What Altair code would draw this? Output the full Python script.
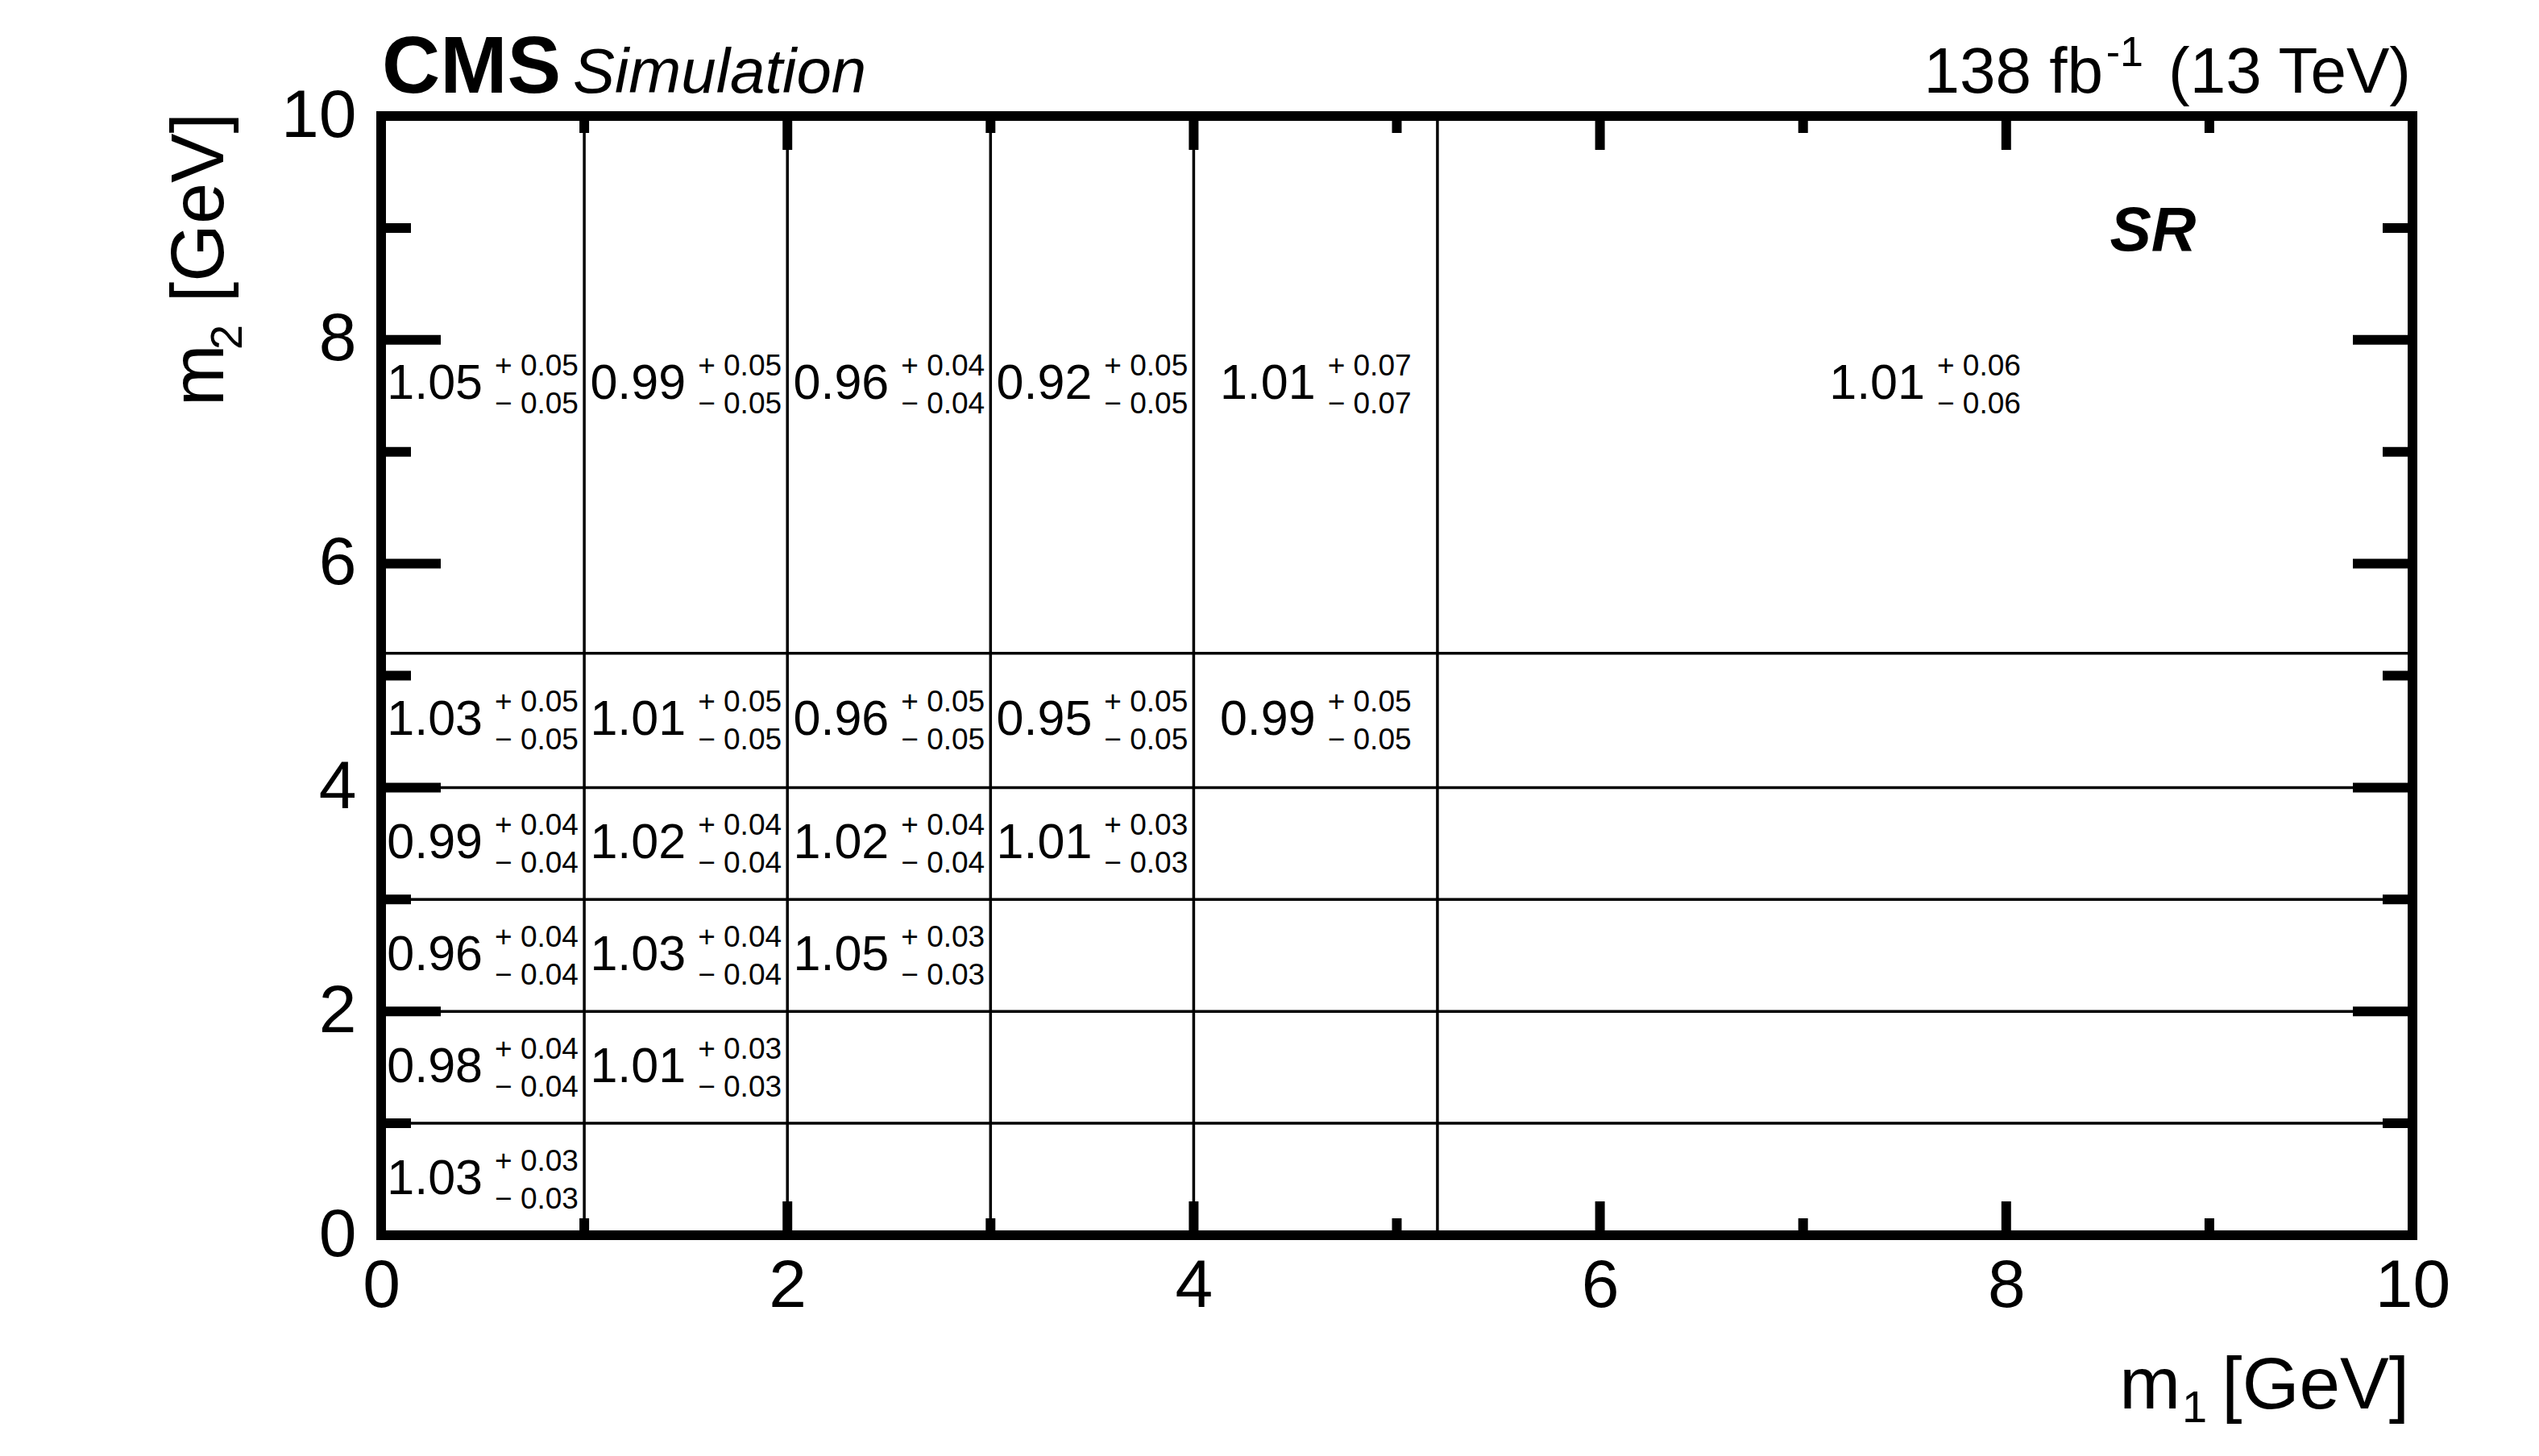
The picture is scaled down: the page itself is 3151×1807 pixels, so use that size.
import altair as alt
import pandas as pd

# ---------------- data ----------------
m1_edges = [0, 1, 2, 3, 4, 5.2, 10]
m2_edges = [0, 1, 2, 3, 4, 5.2, 10]

cell_m1_bin = [0, 0, 1, 0, 1, 2, 0, 1, 2, 3, 0, 1, 2, 3, 4, 0, 1, 2, 3, 4, 5]
cell_m2_bin = [0, 1, 1, 2, 2, 2, 3, 3, 3, 3, 4, 4, 4, 4, 4, 5, 5, 5, 5, 5, 5]
ratio = [1.03, 0.98, 1.01, 0.96, 1.03, 1.05, 0.99, 1.02, 1.02, 1.01,
         1.03, 1.01, 0.96, 0.95, 0.99, 1.05, 0.99, 0.96, 0.92, 1.01, 1.01]
err_up = [0.03, 0.04, 0.03, 0.04, 0.04, 0.03, 0.04, 0.04, 0.04, 0.03,
          0.05, 0.05, 0.05, 0.05, 0.05, 0.05, 0.05, 0.04, 0.05, 0.07, 0.06]
err_dn = [0.03, 0.04, 0.03, 0.04, 0.04, 0.03, 0.04, 0.04, 0.04, 0.03,
          0.05, 0.05, 0.05, 0.05, 0.05, 0.05, 0.05, 0.04, 0.05, 0.07, 0.06]

axis_label_values = [0, 2, 4, 6, 8, 10]
major_ticks = [2, 4, 6, 8]
minor_ticks = [1, 3, 5, 7, 9]

# ---------------- layout ----------------
W, H = 2521, 1389
FONT = "Liberation Sans"
xs = alt.Scale(domain=[0, 10], nice=False, zero=False)
ys = alt.Scale(domain=[0, 10], nice=False, zero=False)
# tick lengths (data units)
XT_MAJ, XT_MIN = 42 / (H / 10), 21 / (H / 10)
YT_MAJ, YT_MIN = 74 / (W / 10), 37 / (W / 10)

cells = pd.DataFrame({
    "xc": [(m1_edges[i] + m1_edges[i + 1]) / 2 for i in cell_m1_bin],
    "yc": [(m2_edges[j] + m2_edges[j + 1]) / 2 for j in cell_m2_bin],
    "val": [f"{v:.2f}" for v in ratio],
    "up": [f"+ {e:.2f}" for e in err_up],
    "dn": [f"\u2212 {e:.2f}" for e in err_dn],
})

inner_x = m1_edges[1:-1]
inner_y = m2_edges[1:-1]
vgrid = pd.DataFrame({"pos": inner_x, "lo": [0] * len(inner_x), "hi": [10] * len(inner_x)})
hgrid = pd.DataFrame({"pos": inner_y, "lo": [0] * len(inner_y), "hi": [10] * len(inner_y)})

vt_rows = []
for p in major_ticks + minor_ticks:
    L = XT_MAJ if p in major_ticks else XT_MIN
    vt_rows.append({"pos": p, "a": 0, "b": L})
    vt_rows.append({"pos": p, "a": 10, "b": 10 - L})
vticks = pd.DataFrame(vt_rows)
ht_rows = []
for p in major_ticks + minor_ticks:
    L = YT_MAJ if p in major_ticks else YT_MIN
    ht_rows.append({"pos": p, "a": 0, "b": L})
    ht_rows.append({"pos": p, "a": 10, "b": 10 - L})
hticks = pd.DataFrame(ht_rows)

x_axis = alt.Axis(values=axis_label_values, title=None, grid=False, domain=False,
                  ticks=False, tickSize=0, labelFontSize=84, labelFont=FONT,
                  labelColor="black", labelPadding=22, labelFlush=False,
                  labelOverlap=False, format="d")
y_axis = alt.Axis(values=axis_label_values, title=None, grid=False, domain=False,
                  ticks=False, tickSize=0, labelFontSize=84, labelFont=FONT,
                  labelColor="black", labelPadding=31, labelFlush=False,
                  labelOverlap=False, format="d")


def X(field):
    return alt.X(field, scale=xs, axis=x_axis)


def Y(field):
    return alt.Y(field, scale=ys, axis=y_axis)


vgrid_layer = alt.Chart(vgrid).mark_rule(color="black", strokeWidth=3.5).encode(
    x=X("pos:Q"), y=Y("lo:Q"), y2="hi:Q")
hgrid_layer = alt.Chart(hgrid).mark_rule(color="black", strokeWidth=3.5).encode(
    y=Y("pos:Q"), x=X("lo:Q"), x2="hi:Q")
vtick_layer = alt.Chart(vticks).mark_rule(color="black", strokeWidth=12).encode(
    x=X("pos:Q"), y=Y("a:Q"), y2="b:Q")
htick_layer = alt.Chart(hticks).mark_rule(color="black", strokeWidth=12).encode(
    y=Y("pos:Q"), x=X("a:Q"), x2="b:Q")

main_txt = alt.Chart(cells).mark_text(font=FONT, fontSize=61, align="right",
                                      baseline="middle", dx=0, color="black").encode(
    x=X("xc:Q"), y=Y("yc:Q"), text="val:N")
up_txt = alt.Chart(cells).mark_text(font=FONT, fontSize=37, align="left",
                                    baseline="middle", dx=15, dy=-22, color="black").encode(
    x=X("xc:Q"), y=Y("yc:Q"), text="up:N")
dn_txt = alt.Chart(cells).mark_text(font=FONT, fontSize=37, align="left",
                                    baseline="middle", dx=15, dy=25, color="black").encode(
    x=X("xc:Q"), y=Y("yc:Q"), text="dn:N")


def label(text, x, y, size, dx, dy, align="left", weight="normal", style="normal", angle=0):
    df = pd.DataFrame({"t": [text], "x": [x], "y": [y]})
    kw = dict(font=FONT, fontSize=size, align=align, baseline="alphabetic",
              dx=dx, dy=dy, fontWeight=weight, fontStyle=style, color="black")
    if angle:
        kw["angle"] = angle
    return alt.Chart(df).mark_text(**kw).encode(x=X("x:Q"), y=Y("y:Q"), text="t:N")


annotations = [
    label("CMS", 0, 10, 100, 1, -29, weight="bold"),
    label("Simulation", 0, 10, 78, 238, -29, style="italic"),
    label("(13 TeV)", 10, 10, 80, -2, -29, align="right"),
    label("-1", 10, 10, 52, -334, -62, align="right"),
    label("138 fb", 10, 10, 80, -384, -29, align="right"),
    label("SR", 10, 10, 77, -322, 167, align="center", weight="bold", style="italic"),
    # x-axis title  m_1 [GeV]
    label("[GeV]", 10, 0, 91, -4, 215, align="right"),
    label("1", 10, 0, 56, -286, 232, align="left"),
    label("m", 10, 0, 91, -288, 215, align="right"),
    # y-axis title  m_2 [GeV] (rotated)
    label("[GeV]", 0, 10, 92, 4, -196, align="right", angle=270),
    label("2", 0, 10, 56, -290, -173, align="left", angle=270),
    label("m", 0, 10, 92, -360, -196, align="left", angle=270),
]

chart = alt.layer(
    vgrid_layer, hgrid_layer, vtick_layer, htick_layer, main_txt, up_txt, dn_txt, *annotations
).properties(
    width=W, height=H,
    padding={"left": 465, "top": 136, "right": 149, "bottom": 266},
    autosize=alt.AutoSizeParams(type="none"),
    background="white",
).configure_view(stroke="black", strokeWidth=12)

chart.save("out.html", embed_options={"renderer": "svg", "actions": False})
